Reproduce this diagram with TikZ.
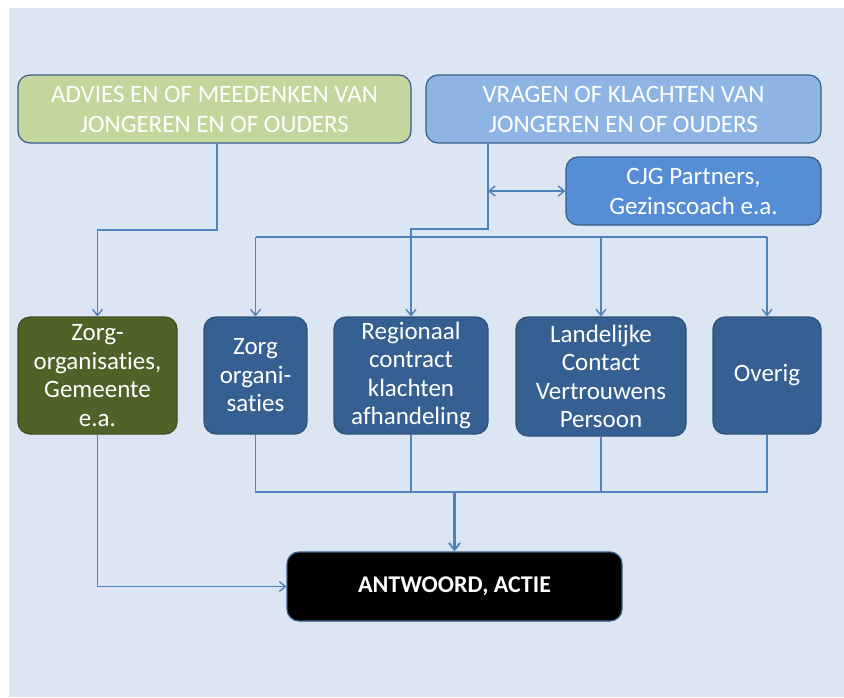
\documentclass[tikz,border=0pt]{standalone}
\usepackage{fontspec}
\setmainfont[Ligatures={NoCommon}]{Carlito}
\usetikzlibrary{arrows.meta}
\definecolor{bgblue}{HTML}{DCE6F2}
\definecolor{lgreen}{HTML}{C3D69B}
\definecolor{lblue}{HTML}{8EB4E3}
\definecolor{mblue}{HTML}{558ED5}
\definecolor{navy}{HTML}{376092}
\definecolor{olive}{HTML}{4F6228}
\definecolor{edgeblue}{HTML}{385D8A}
\definecolor{linkblue}{HTML}{4F81BD}
\tikzset{
  box/.style={rounded corners=12pt, draw=edgeblue, line width=1.2pt, text=white, align=center, inner sep=0pt,
    font=\fontsize{25}{30}\selectfont},
  midbox/.style={box, fill=navy, draw=navy!85!black, minimum height=117pt, font=\fontsize{25}{28.5}\selectfont},
  link/.style={draw=linkblue, line width=1.8pt},
  arr/.style={link, -{Straight Barb[length=6pt,width=10pt,line width=1.4pt]}},
  darr/.style={link, {Straight Barb[length=6pt,width=10pt,line width=1.4pt]}-{Straight Barb[length=6pt,width=10pt,line width=1.4pt]}},
}
\begin{document}
\begin{tikzpicture}[x=1pt,y=-1pt]
\useasboundingbox (0,0) rectangle (844,697);
\fill[white] (0,0) rectangle (844,697);
\fill[bgblue] (9,8) rectangle (844,697);

\node[box, fill=lgreen, minimum width=393pt, minimum height=68pt] (advies) at (214.5,109)
  {ADVIES EN OF MEEDENKEN VAN\\JONGEREN EN OF OUDERS};
\node[box, fill=lblue, minimum width=395pt, minimum height=68pt] (vragen) at (623.5,109)
  {VRAGEN OF KLACHTEN VAN\\JONGEREN EN OF OUDERS};
\node[box, fill=mblue, minimum width=255pt, minimum height=68pt] (cjg) at (693.5,191)
  {CJG Partners,\\Gezinscoach e.a.};

\node[midbox, fill=olive, draw=olive!80!black, minimum width=159pt] (gem) at (97.5,375.5)
  {Zorg-\\organisaties,\\Gemeente\\e.a.};
\node[midbox, minimum width=103pt] (zorg) at (255.5,375.5) {Zorg\\organi-\\saties};
\node[midbox, minimum width=154pt] (reg) at (411,375.5) {Regionaal\\contract\\klachten\\afhandeling};
\node[midbox, minimum width=170pt, minimum height=119pt] (land) at (601,376.5) {Landelijke\\Contact\\Vertrouwens\\Persoon};
\node[midbox, minimum width=108pt] (overig) at (767,375.5) {Overig};

\node[box, fill=black, draw=edgeblue, minimum width=335pt, minimum height=69pt,
  font=\fontsize{24}{28}\selectfont\bfseries] (antw) at (454.5,586.5) {ANTWOORD, ACTIE};

% top connectors
\draw[arr] (advies.south) ++(2.5,0) coordinate (a1) -- ++(0,86) -| (gem.north);
\coordinate (v1) at (488,143);
\draw[arr] (v1) -- (488,229) -| (reg.north);
\draw[darr] (cjg.west -| v1) -- (cjg.west);
\coordinate (busL) at (255.5,237);
\coordinate (busR) at (767,237);
\draw[link] (busL) -- (busR);
\draw[arr] (busL) -- (zorg.north);
\draw[arr] (land.north |- busL) -- (land.north);
\draw[arr] (busR) -- (overig.north);

% bottom connectors
\coordinate (bL) at (255.5,492);
\coordinate (bR) at (767,492);
\draw[link] (zorg.south) -- (bL) -- (bR) -- (overig.south);
\draw[link] (reg.south) -- (reg.south |- bL);
\draw[link] (land.south) -- (land.south |- bL);
\draw[link, line width=2.6pt, -{Straight Barb[length=7pt,width=11pt,line width=1.8pt]}] (antw.north |- bL) -- (antw.north);
\draw[arr] (gem.south) |- (antw.west);
\end{tikzpicture}
\end{document}
